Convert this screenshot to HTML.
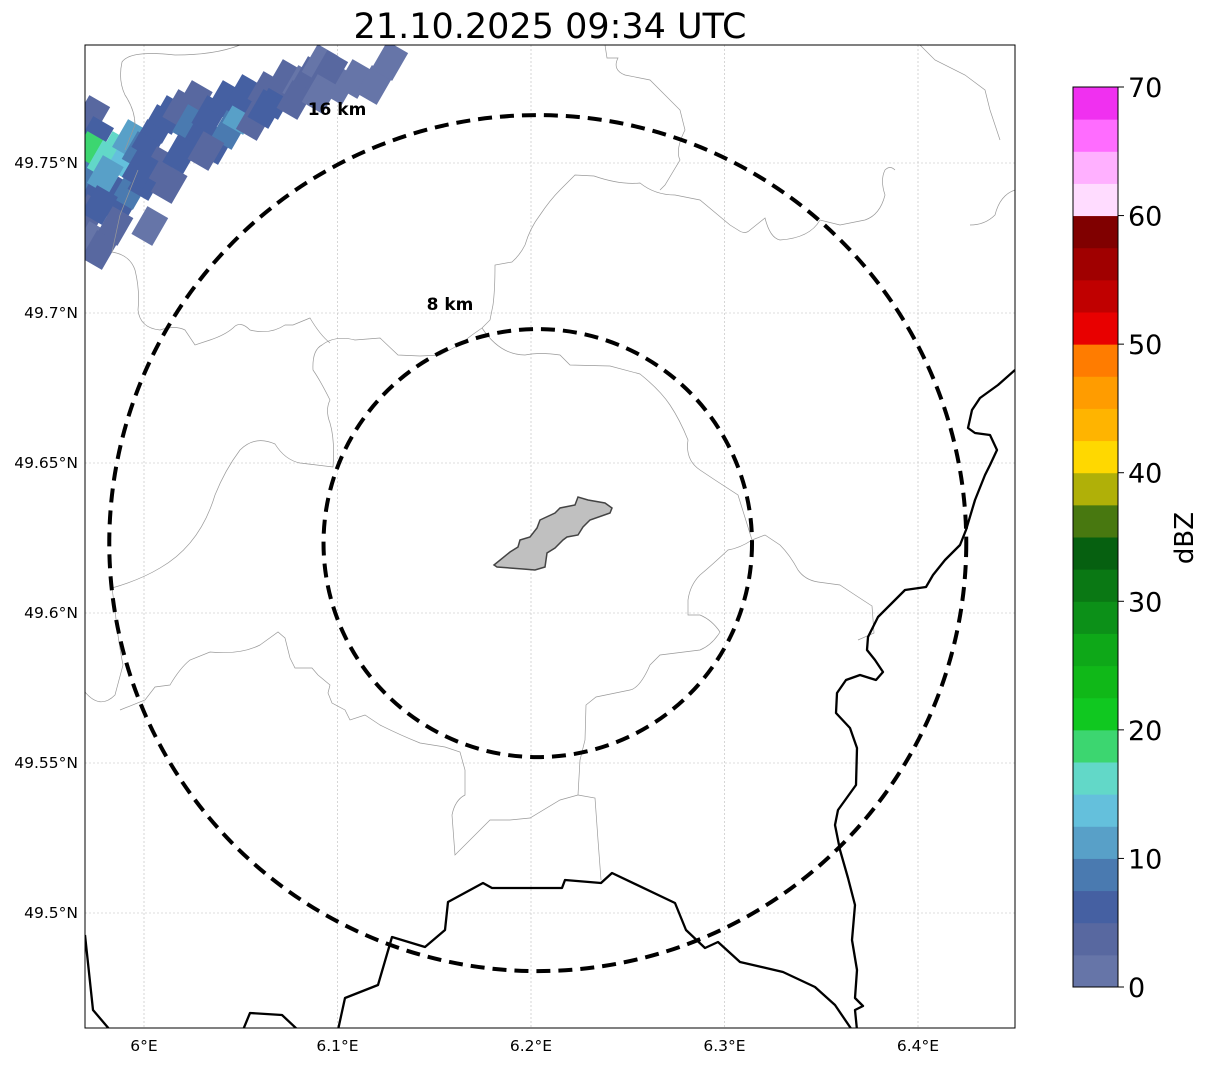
<!DOCTYPE html>
<html><head><meta charset="utf-8"><style>
body{margin:0;background:#fff;font-family:"Liberation Sans","DejaVu Sans",sans-serif}
svg text{font-family:"DejaVu Sans","Liberation Sans",sans-serif}
</style></head><body>
<svg id="c" width="1207" height="1064" viewBox="0 0 1207 1064" xmlns="http://www.w3.org/2000/svg">
<text x="550" y="38" font-size="35" text-anchor="middle">21.10.2025 09:34 UTC</text>
<defs><clipPath id="pc"><rect x="85" y="45" width="930" height="983"/></clipPath></defs>
<g id="grid"></g>
<g id="radar" clip-path="url(#pc)"></g>
<g clip-path="url(#pc)" fill="none" stroke="#999" stroke-width="0.7">
<path d="M85,692 Q100,710 115,695 L123,665 Q118,640 115,610 L112,588 Q140,580 160,568 Q200,545 215,495 Q225,470 240,450 Q255,435 275,444 Q285,460 300,463 L333,467 Q335,440 330,423 Q325,410 330,400 Q320,380 313,370 Q312,350 322,345 Q335,335 355,340 L380,338 L398,355 L420,356 L440,355 L459,345 L472,335 L482,328"/>
<path d="M138,170 L120,215 L112,252 Q130,255 135,270 Q140,290 138,310 Q140,328 160,330 Q175,325 185,330 L195,345 L210,340 Q225,335 233,328 Q240,320 250,330 Q270,335 285,325 L293,325 L310,318 Q320,335 330,343"/>
<path d="M482,328 L490,320 L493,305 Q495,290 495,265 L512,262 Q520,255 525,245 Q530,228 540,215 Q550,200 560,190 L575,175 L594,176 Q620,185 640,183 Q655,195 675,195 L700,200 L730,225 L738,230 Q745,235 750,230 L765,218 Q770,238 780,240 Q810,238 820,220 L840,225 L865,220 Q880,215 885,195 Q880,180 885,170 Q890,165 895,170"/>
<path d="M482,328 Q500,355 525,355 Q540,352 560,355 L570,365 L610,366 L640,374 Q660,390 670,405 Q680,420 688,440 Q685,460 700,470 L715,480 L738,495 L752,540 Q740,548 728,550 Q712,565 700,575 Q690,585 688,600 L688,615 L700,615 Q712,620 720,632 Q712,645 700,650 L660,655 L650,665 Q640,688 630,690 L596,697 L586,705 L585,740 L580,760 L578,795"/>
<path d="M752,540 L765,535 L780,545 Q790,555 798,570 Q805,580 818,582 L840,585 Q855,595 872,606 L874,633 L858,640"/>
<path d="M578,795 L560,800 Q540,812 530,818 L510,820 L490,820 Q470,840 455,855 L452,815 Q455,800 465,795 L465,770 L460,752 L445,747 L420,743 Q400,735 380,725 L365,715 L350,720 L345,710 L332,703 L328,693 L330,685 L318,675 L312,668 L295,668 L290,658 L285,638 L278,632 L260,645 Q240,655 210,652 L190,660 Q180,668 170,685 L155,687 L145,700 L120,710"/>
<path d="M578,795 L595,798 L598,840 L601,880"/>
<path d="M605,45 L607,58 L618,58 Q612,70 625,75 L650,80 L665,95 L680,110 L685,130 Q675,150 680,160 L665,185 L660,190"/>
<path d="M240,45 Q215,55 175,55 Q130,50 122,62 Q118,80 125,95 Q135,110 135,125 L125,150"/>
<path d="M920,45 L935,60 L965,75 L985,90 L990,110 L1000,140"/>
<path d="M1015,190 Q1000,195 995,215 Q985,225 970,225"/>
</g>
<g clip-path="url(#pc)" fill="none" stroke="#000" stroke-width="2.3" stroke-linejoin="round">
<path d="M1015,370 L998,385 L980,398 L972,410 L968,428 L975,433 L990,435 L997,450 L990,465 L985,475 L975,500 L966,530 L960,545 L945,560 L933,575 L926,587 L905,590 L890,605 L878,617 L868,637 L867,650 L875,660 L883,672 L876,680 L860,675 L846,680 L837,693 L836,713 L850,728 L857,748 L856,785 L838,810 L835,825 L840,850 L848,878 L855,905 L852,940 L857,970 L855,998 L863,1006 L855,1010 L857,1030"/>
<path d="M85,935 L93,1010 L110,1030"/>
<path d="M243,1030 L250,1013 L282,1015 L298,1030"/>
<path d="M338,1030 L345,998 L378,985 L392,937 L425,947 L445,930 L448,902 L483,883 L492,888 L562,888 L565,880 L601,883 L612,873 L675,903 L686,930 L705,948 L718,942 L740,962 L783,972 L815,987 L835,1005 L852,1030"/>
</g>
<path d="M494,565 L510,552 L518,547 L520,540 L530,537 L537,528 L540,520 L555,513 L560,508 L575,505 L578,497 L588,500 L605,503 L612,508 L610,513 L590,520 L583,527 L578,535 L567,537 L563,540 L555,548 L547,553 L545,567 L535,570 L523,569 L497,567 Z" fill="#c0c0c0" stroke="#444" stroke-width="1.5"/>
<g id="rings" fill="none" stroke="#000" stroke-width="4" stroke-dasharray="14,8"></g>
<text x="337" y="115" font-size="17" font-weight="bold" text-anchor="middle">16 km</text>
<text x="450" y="310" font-size="17" font-weight="bold" text-anchor="middle">8 km</text>
<rect x="85" y="45" width="930" height="983" fill="none" stroke="#000" stroke-width="1"/>
<g id="ticks" font-size="15.5"></g>
<g id="cbar"></g>
<text transform="translate(1193,538) rotate(-90)" font-size="26" text-anchor="middle">dBZ</text>
</svg>
<script>
const lonTicks=[6.0,6.1,6.2,6.3,6.4];
const lonLabels=["6°E","6.1°E","6.2°E","6.3°E","6.4°E"];
const latTicks=[49.75,49.7,49.65,49.6,49.55,49.5];
const latLabels=["49.75°N","49.7°N","49.65°N","49.6°N","49.55°N","49.5°N"];
const ringKm=[8,16];
const ringCenter=[6.2035,49.6233];
const cbLevels=[0,2.5,5,7.5,10,12.5,15,17.5,20,22.5,25,27.5,30,32.5,35,37.5,40,42.5,45,47.5,50,52.5,55,57.5,60,62.5,65,67.5];
const cbColors=["#6675a8","#5868a0","#4560a2","#4a7ab0","#58a0c8","#64c0dc","#62d8c8","#3cd670","#10c820","#10b818","#0ea818","#0c9018","#0a7814","#066010","#487810","#b0b008","#ffd800","#ffb400","#ff9c00","#ff7c00","#e80000","#c00000","#a00000","#800000","#ffdcff","#ffb0ff","#ff6cff","#f030f0"];
const cbTicks=[0,10,20,30,40,50,60,70];
const cellLon=[5.973,5.975,5.972,5.973,5.971,5.975,5.972,5.973,5.980,5.985,5.990,5.993,5.998,6.003,6.008,6.013,6.019,6.026,6.024,6.029,6.034,6.037,6.042,6.044,6.050,6.052,6.057,6.063,6.068,6.073,6.081,6.086,6.091,6.101,6.109,6.119,6.127,5.982,5.988,5.985,5.993,6.001,6.008,6.013,6.003,5.980,5.998,6.019,6.032,6.063,6.078,6.096,6.091,5.977,5.977];
const cellLat=[49.766,49.759,49.754,49.749,49.744,49.739,49.733,49.724,49.751,49.754,49.751,49.758,49.754,49.758,49.763,49.766,49.768,49.771,49.763,49.759,49.766,49.756,49.771,49.761,49.766,49.773,49.764,49.774,49.771,49.778,49.776,49.779,49.783,49.776,49.778,49.776,49.784,49.741,49.736,49.729,49.741,49.744,49.749,49.743,49.729,49.746,49.748,49.753,49.754,49.768,49.771,49.781,49.773,49.736,49.721];
const cellVal=[4,5,18,19,8,6,4,2,16,15,14,12,8,6,7,5,4,3,9,6,7,5,6,8,10,5,4,4,6,3,2,3,1,2,2,1,2,7,5,4,9,5,4,3,2,10,7,5,4,7,4,3,2,6,3];

const X=lon=>144+(lon-6)*1935;
const Y=lat=>163-(lat-49.75)*3000;
const NS="http://www.w3.org/2000/svg";
function mk(tag,attrs,parent){const e=document.createElementNS(NS,tag);for(const k in attrs)e.setAttribute(k,attrs[k]);parent.appendChild(e);return e;}
const grid=document.getElementById('grid'),ticks=document.getElementById('ticks');
lonTicks.forEach((v,i)=>{
  const l=mk('line',{x1:X(v),x2:X(v),y1:45,y2:1028,stroke:'#bbb','stroke-width':0.6,'stroke-dasharray':'2,2'},grid);
  
  
  const t=mk('text',{x:X(v),y:1051,'text-anchor':'middle'},ticks);t.textContent=lonLabels[i];
  
  
});
latTicks.forEach((v,i)=>{
  const l=mk('line',{x1:85,x2:1015,y1:Y(v),y2:Y(v),stroke:'#bbb','stroke-width':0.6,'stroke-dasharray':'2,2'},grid);
  
  
  const t=mk('text',{x:78,y:Y(v)+5,'text-anchor':'end'},ticks);t.textContent=latLabels[i];
  
  
});
function colorFor(v){let c=cbColors[0];cbLevels.forEach((lv,i)=>{if(v>=lv)c=cbColors[i];});return c;}
const radar=document.getElementById('radar');
cellVal.forEach((v,i)=>{
  const cx=X(cellLon[i]),cy=Y(cellLat[i]);
  const r=mk('rect',{x:cx-12,y:cy-16,width:24,height:32,fill:colorFor(v),transform:`rotate(30 ${cx} ${cy})`},radar);
  
  
});
const rings=document.getElementById('rings');
const pxPerKmX=428.5/16,pxPerKmY=428/16;
ringKm.forEach(k=>{
  const e=mk('ellipse',{cx:X(ringCenter[0]),cy:Y(ringCenter[1]),rx:k*pxPerKmX,ry:k*pxPerKmY},rings);
  
  
});
const cb=document.getElementById('cbar');
const CY=v=>987-v*(900/70);
cbLevels.forEach((lv,i)=>{
  const r=mk('rect',{x:1073,y:CY(lv+2.5),width:45,height:900/28+0.5,fill:cbColors[i]},cb);
  
  
});
mk('rect',{x:1073,y:87,width:45,height:900,fill:'none',stroke:'#000','stroke-width':1},cb);
cbTicks.forEach(v=>{
  mk('line',{x1:1118,x2:1124,y1:CY(v),y2:CY(v),stroke:'#000'},cb);
  const t=mk('text',{x:1128,y:CY(v)+10,'font-size':27},cb);t.textContent=v;
  
  
});
</script>
</body></html>
